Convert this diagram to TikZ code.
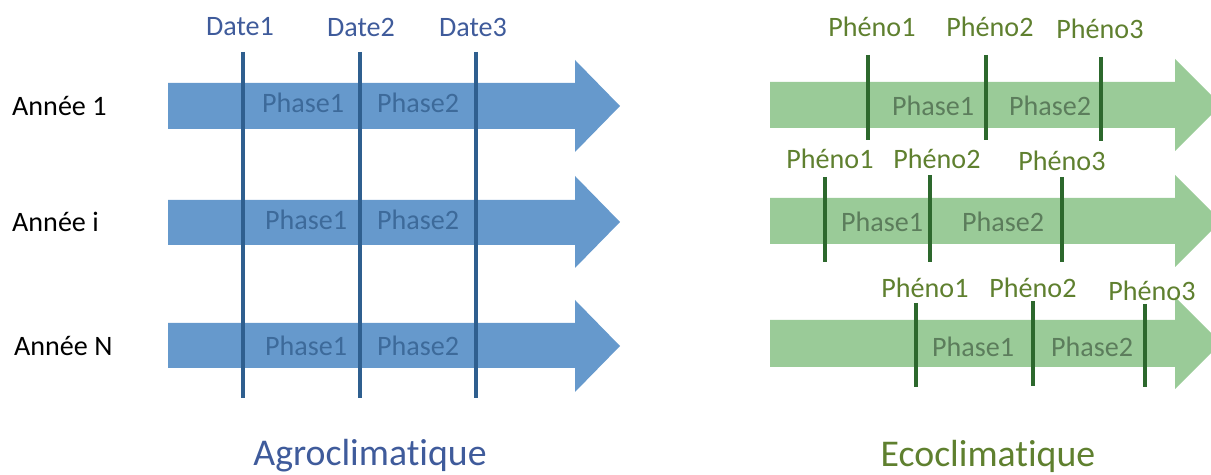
\documentclass[tikz,border=0pt]{standalone}
\usepackage{fontspec}
\setmainfont{Carlito}[Ligatures=CommonOff]
\definecolor{agrofill}{HTML}{6699CC}
\definecolor{agroline}{HTML}{2F5F8F}
\definecolor{agrotext}{HTML}{3F5B9B}
\definecolor{agrophase}{HTML}{3D6A9A}
\definecolor{ecofill}{HTML}{9ACB98}
\definecolor{ecoline}{HTML}{2D682D}
\definecolor{ecotext}{HTML}{5F802F}
\definecolor{ecophase}{HTML}{5C7D5C}
\tikzset{
  yearlabel/.style={font=\fontsize{16}{19}\selectfont,anchor=west},
  datelabel/.style={font=\fontsize{16}{19}\selectfont,text=agrotext},
  phenolabel/.style={font=\fontsize{16}{19}\selectfont,text=ecotext},
  agrophasetxt/.style={font=\fontsize{16}{19}\selectfont,text=agrophase},
  ecophasetxt/.style={font=\fontsize{16}{19}\selectfont,text=ecophase},
  titlelabel/.style={font=\fontsize{21.5}{25}\selectfont},
  agrobar/.style={line width=2.3pt,draw=agroline},
  ecobar/.style={line width=2.3pt,draw=ecoline}
}
\begin{document}
\begin{tikzpicture}[x=0.02cm,y=-0.02cm]
 \useasboundingbox (0,0) rectangle (1211,475);
 \begin{scope}
 \clip (0,0) rectangle (1211,475);
 % agroclimatique arrows
 \fill[agrofill](168,83)--(575,83)--(575,60)--(620,106)--(575,152)--(575,129)--(168,129)--cycle;
 \fill[agrofill](168,200)--(575,200)--(575,176)--(620,222)--(575,268)--(575,245)--(168,245)--cycle;
 \fill[agrofill](168,323)--(575,323)--(575,300)--(620,346)--(575,392)--(575,368)--(168,368)--cycle;
 % ecoclimatique arrows
 \fill[ecofill](770,82)--(1175,82)--(1175,59)--(1221,105)--(1175,151)--(1175,128)--(770,128)--cycle;
 \fill[ecofill](770,198)--(1175,198)--(1175,175)--(1221,221)--(1175,267)--(1175,244)--(770,244)--cycle;
 \fill[ecofill](770,320)--(1175,320)--(1175,297)--(1221,343)--(1175,389)--(1175,367)--(770,367)--cycle;
 \end{scope}

 % dates
 \draw[agrobar](243,52)--(243,398);
 \draw[agrobar](360,52)--(360,398);
 \draw[agrobar](476,52)--(476,398);
 \node[datelabel] (date1) at (240,27) {Date1};
 \node[datelabel] (date2) at (361,27) {Date2};
 \node[datelabel] (date3) at (473,27) {Date3};

 % phenological stages
 \draw[ecobar](868,55)--(868,140);
 \draw[ecobar](986,55)--(986,140);
 \draw[ecobar](1101,57)--(1101,141);
 \draw[ecobar](825,177)--(825,262);
 \draw[ecobar](930,175)--(930,262);
 \draw[ecobar](1062,177)--(1062,262);
 \draw[ecobar](916,303)--(916,387);
 \draw[ecobar](1033,301)--(1033,386);
 \draw[ecobar](1145,304)--(1145,387);
 \node[phenolabel] (pa1) at (872,27) {Phéno1};
 \node[phenolabel] (pa2) at (990,27) {Phéno2};
 \node[phenolabel] (pa3) at (1100,29) {Phéno3};
 \node[phenolabel] (pb1) at (830,159) {Phéno1};
 \node[phenolabel] (pb2) at (937,159) {Phéno2};
 \node[phenolabel] (pb3) at (1062,161) {Phéno3};
 \node[phenolabel] (pc1) at (925,288) {Phéno1};
 \node[phenolabel] (pc2) at (1033,288) {Phéno2};
 \node[phenolabel] (pc3) at (1152,291) {Phéno3};

 % phases
 \node[agrophasetxt] (ap11) at (303,103) {Phase1};
 \node[agrophasetxt] (ap12) at (418,103) {Phase2};
 \node[agrophasetxt] (ap21) at (306,220) {Phase1};
 \node[agrophasetxt] (ap22) at (418,220) {Phase2};
 \node[agrophasetxt] (ap31) at (306,346) {Phase1};
 \node[agrophasetxt] (ap32) at (418,346) {Phase2};
 \node[ecophasetxt] (ep11) at (933,106) {Phase1};
 \node[ecophasetxt] (ep12) at (1050,106) {Phase2};
 \node[ecophasetxt] (ep21) at (882,222) {Phase1};
 \node[ecophasetxt] (ep22) at (1003,222) {Phase2};
 \node[ecophasetxt] (ep31) at (973,347) {Phase1};
 \node[ecophasetxt] (ep32) at (1092,347) {Phase2};

 % years
 \node[yearlabel] (an1) at (6,106) {Année 1};
 \node[yearlabel] (ani) at (6,222) {Année i};
 \node[yearlabel] (ann) at (8,346) {Année N};

 % titles
 \node[titlelabel,text=agrotext] (agro) at (370,456) {Agroclimatique};
 \node[titlelabel,text=ecotext] (eco) at (988,456) {Ecoclimatique};
\end{tikzpicture}
\end{document}
